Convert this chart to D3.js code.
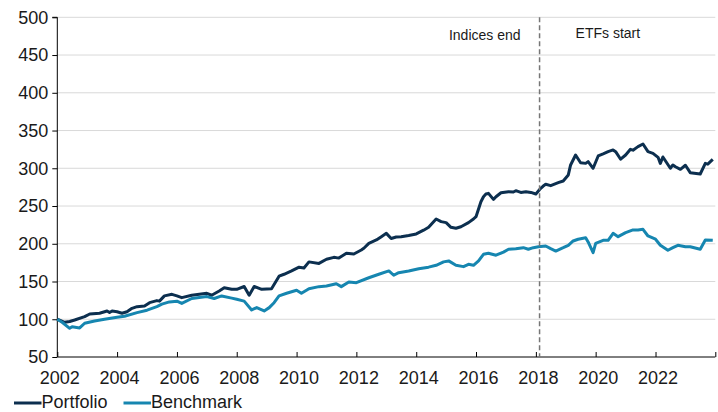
<!DOCTYPE html>
<html><head><meta charset="utf-8">
<script src="https://cdn.jsdelivr.net/npm/d3@7"></script>
<style>
html,body{margin:0;padding:0;background:#fff;}
svg{display:block;font-family:"Liberation Sans",Arial,sans-serif;}
</style></head>
<body><svg id="c" width="718" height="412"></svg>
<script>
const portfolioDates = ["2002-01","2002-04","2002-06","2002-08","2002-12","2003-02","2003-06","2003-09","2003-10","2003-11","2004-01","2004-03","2004-05","2004-07","2004-09","2004-12","2005-02","2005-05","2005-06","2005-08","2005-11","2006-01","2006-03","2006-07","2007-01","2007-03","2007-06","2007-08","2007-11","2008-01","2008-04","2008-06","2008-08","2008-11","2009-03","2009-06","2009-08","2009-11","2010-02","2010-04","2010-06","2010-10","2011-01","2011-04","2011-06","2011-09","2011-12","2012-03","2012-04","2012-06","2012-09","2012-11","2013-01","2013-03","2013-05","2013-07","2013-10","2014-01","2014-04","2014-06","2014-09","2014-11","2015-01","2015-03","2015-05","2015-07","2015-10","2015-12","2016-01","2016-03","2016-04","2016-05","2016-06","2016-08","2016-09","2016-11","2017-02","2017-04","2017-05","2017-07","2017-09","2017-11","2018-01","2018-03","2018-04","2018-05","2018-07","2018-10","2018-12","2019-02","2019-03","2019-05","2019-07","2019-09","2019-10","2019-12","2020-02","2020-04","2020-06","2020-08","2020-09","2020-11","2021-01","2021-03","2021-04","2021-06","2021-08","2021-10","2021-12","2022-02","2022-03","2022-04","2022-07","2022-08","2022-09","2022-11","2023-01","2023-03","2023-07","2023-09","2023-10","2023-12"];
const portfolioValues = [100,96,97,99,103.5,107,108,111,109,111,110,108,110,114.5,116.7,117.6,122,124.7,124,131,133,131,128.6,131.8,134.4,131.8,137.5,141.8,139.7,139.7,143.4,131.8,143.4,139.7,140.5,157,159.6,164,169,168,176,174,179.5,182,181,187.5,186.5,191.7,194,200.6,205,209.4,213.8,207,209,209.4,211,213,218,221.8,232.8,229.3,228,221.8,220.5,222.6,228,232.8,235.9,255.7,262.3,265.9,266.8,258.8,262.3,267.6,269,268.5,270.3,268,269,268,265.9,273.5,276.5,278.8,277,281,283.2,291.2,304.4,317.6,307.4,306.5,308.8,300,316.3,319,322,324.3,322,312,317.6,325.1,324,328.7,332.2,322,319.8,314.5,306.5,315,300,304.4,302,298.6,304,294.2,292.4,306.5,305.5,311.8];

const benchmarkDates = ["2002-01","2002-03","2002-06","2002-07","2002-10","2002-12","2003-04","2003-08","2004-01","2004-04","2004-09","2005-01","2005-05","2005-07","2005-10","2006-01","2006-03","2006-07","2007-01","2007-04","2007-07","2007-11","2008-01","2008-04","2008-07","2008-09","2008-12","2009-02","2009-04","2009-06","2009-09","2010-01","2010-03","2010-06","2010-10","2011-01","2011-05","2011-07","2011-10","2012-01","2012-06","2012-10","2013-02","2013-04","2013-06","2013-10","2014-02","2014-06","2014-09","2014-12","2015-02","2015-05","2015-08","2015-10","2015-12","2016-02","2016-04","2016-06","2016-09","2016-12","2017-02","2017-05","2017-08","2017-10","2017-12","2018-02","2018-05","2018-07","2018-09","2018-12","2019-02","2019-04","2019-06","2019-09","2019-10","2019-12","2020-01","2020-04","2020-06","2020-08","2020-10","2021-01","2021-04","2021-06","2021-08","2021-10","2022-01","2022-03","2022-06","2022-08","2022-10","2023-01","2023-03","2023-07","2023-09","2023-12"];
const benchmarkValues = [100,96,88,90,88.5,94.7,97.7,100,102.6,104,108.8,112,116.7,120,123,124,121,127.5,130,127.5,130.9,128,126.5,124,112.3,115.4,111,115.4,121.9,130.9,134.4,138.4,134.4,140.5,143.2,144,147,143.2,149.4,148.5,155,159.6,164,158.3,161.7,164,167,169,171.5,176,177.3,171.5,169.7,172.8,171.5,177.3,186,187.4,184.8,189,192.7,193.5,194.8,192.7,194.8,196,197,193.5,190.4,194.8,198,203.7,206,208,202.4,188.2,200.6,204.6,204.6,213.8,209.4,214.7,218.3,218.3,219.2,210.3,206,198,191.4,194.8,198,196,196,192.7,205,204.6];

const seriesNames = ["Portfolio","Benchmark"];
const seriesColors = ["#0c2f4f","#1686b0"];
const yTicks = [50,100,150,200,250,300,350,400,450,500];
const xTickYears = [2002,2004,2006,2008,2010,2012,2014,2016,2018,2020,2022];
const splitDate = "2018-02-15";
const annotations = ["Indices end","ETFs start"];

const svg = d3.select("#c");
const parse = d3.timeParse("%Y-%m");
const m = {l:57.3, r:715.3, t:17.3, b:357};
const x = d3.scaleTime().domain([new Date(2002,0,1), new Date(2024,0,1)]).range([m.l, m.r]);
const y = d3.scaleLinear().domain([50,500]).range([m.b, m.t]);

// gridlines
svg.append("g").selectAll("line").data(yTicks.filter(v=>v>50)).join("line")
  .attr("x1", m.l).attr("x2", m.r).attr("y1", d=>y(d)).attr("y2", d=>y(d))
  .attr("stroke","#d9d9d9").attr("stroke-width",1);

// y axis
const ya = svg.append("g").attr("transform",`translate(${m.l},0)`)
  .call(d3.axisLeft(y).tickValues(yTicks).tickSize(5).tickPadding(4).tickFormat(d3.format("d")));
ya.select(".domain").attr("stroke","#000").attr("d",`M-5,${y(500)}H0V${y(50)}`);
ya.selectAll(".tick line").attr("stroke","#000");
ya.selectAll("text").attr("font-size","18px").attr("fill","#1a1a1a").attr("font-family","Liberation Sans, Arial, sans-serif");

// x axis
const xTickDates = xTickYears.map(yr=>new Date(yr,0,1)).concat([new Date(2024,0,1)]);
const xa = svg.append("g").attr("transform",`translate(0,${m.b})`)
  .call(d3.axisBottom(x).tickValues(xTickDates).tickSize(-5).tickPadding(14)
    .tickFormat(d => xTickYears.includes(d.getFullYear()) ? d.getFullYear() : ""));
xa.select(".domain").attr("stroke","#000").attr("d",`M${m.l},0H${m.r}`);
xa.selectAll(".tick line").attr("stroke","#000");
xa.selectAll("text").attr("font-size","18px").attr("fill","#1a1a1a").attr("dx","2").attr("font-family","Liberation Sans, Arial, sans-serif");

// lines
const line = d3.line().x(d=>x(d[0])).y(d=>y(d[1])).curve(d3.curveLinear);
const pData = portfolioDates.map((d,i)=>[parse(d), portfolioValues[i]]);
const bData = benchmarkDates.map((d,i)=>[parse(d), benchmarkValues[i]]);
[pData,bData].forEach((dat,i)=>{
  svg.append("path").datum(dat).attr("d",line).attr("fill","none")
    .attr("stroke",seriesColors[i]).attr("stroke-width",3).attr("stroke-linejoin","round");
});

// dashed split line
const sx = x(d3.timeParse("%Y-%m-%d")(splitDate));
svg.append("line").attr("x1",sx).attr("x2",sx).attr("y1",y(500)).attr("y2",m.b)
  .attr("stroke","#767676").attr("stroke-width",1.5).attr("stroke-dasharray","5,3");

svg.append("text").attr("x",sx-19).attr("y",40).attr("text-anchor","end")
  .attr("font-size","14px").attr("fill","#1a1a1a").text(annotations[0]);
svg.append("text").attr("x",sx+36).attr("y",38).attr("text-anchor","start")
  .attr("font-size","14px").attr("fill","#1a1a1a").text(annotations[1]);

// legend
const lg = [{x1:14,x2:41.5,tx:41.5},{x1:123.5,x2:151,tx:151}];
lg.forEach((p,i)=>{
  svg.append("line").attr("x1",p.x1).attr("x2",p.x2).attr("y1",403).attr("y2",403)
    .attr("stroke",seriesColors[i]).attr("stroke-width",3);
  svg.append("text").attr("x",p.tx).attr("y",407.5).attr("font-size","18px").attr("fill","#1a1a1a").text(seriesNames[i]);
});
</script></body></html>
